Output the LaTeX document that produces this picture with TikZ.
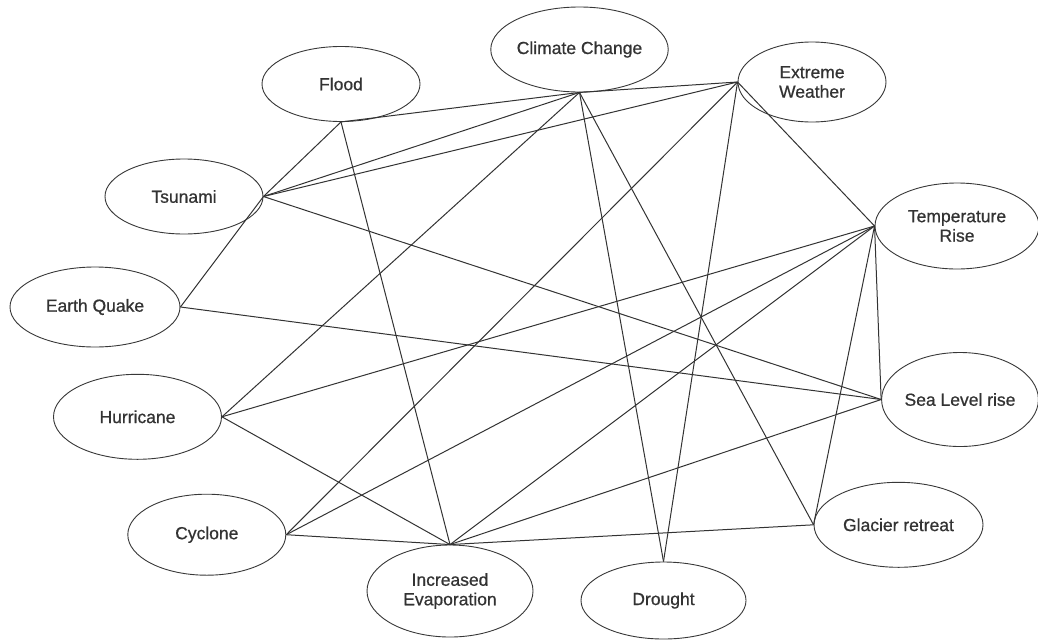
\documentclass[tikz,border=0pt]{standalone}
\usepackage{fontspec}
\setmainfont{Liberation Sans}
\newfontfamily\labelfont[FakeBold=0.7]{Liberation Sans}
\usetikzlibrary{shapes.geometric}
\begin{document}
\begin{tikzpicture}[x=1pt,y=-1pt,
  ink/.style={draw=black!78, line width=0.9pt},
  topic/.style={ellipse, ink, fill=white, inner sep=0pt, align=center,
    text=black!80, font=\labelfont\fontsize{17.5}{19.5}\selectfont},
  link/.style={draw=black!80, line width=1pt}]

\useasboundingbox[fill=white] (0,0) rectangle (1038,640);

% topics
\node[topic, minimum width=173pt, minimum height=85pt] (cc) at (579.5,49.5) {Climate Change};
\node[topic, minimum width=158pt, minimum height=75pt] (flood) at (341,84) {Flood};
\node[topic, minimum width=148pt, minimum height=80pt] (ew) at (812,82) {Extreme\\Weather};
\node[topic, minimum width=158pt, minimum height=75pt] (tsu) at (184,196.5) {Tsunami};
\node[topic, minimum width=170pt, minimum height=80pt] (eq) at (95,307) {Earth Quake};
\node[topic, minimum width=164pt, minimum height=86pt] (tr) at (957,226) {Temperature\\Rise};
\node[topic, minimum width=156pt, minimum height=94pt] (sl) at (960,399.5) {Sea Level rise};
\node[topic, minimum width=168pt, minimum height=85pt] (hur) at (137.5,416.8) {Hurricane};
\node[topic, minimum width=158pt, minimum height=81pt] (cyc) at (206.8,534.7) {Cyclone};
\node[topic, minimum width=166pt, minimum height=92pt] (ie) at (450,591) {Increased\\Evaporation};
\node[topic, minimum width=165pt, minimum height=77pt] (dr) at (663.5,600.5) {Drought};
\node[topic, minimum width=169pt, minimum height=85pt] (gl) at (898.5,524.8) {Glacier retreat};

% links
\draw[link] (flood.south) -- (cc.south);
\draw[link] (flood.south) -- (tsu.east);
\draw[link] (flood.south) -- (ie.north);
\draw[link] (tsu.east) -- (eq.east);
\draw[link] (tsu.east) -- (cc.south);
\draw[link] (tsu.east) -- (ew.west);
\draw[link] (tsu.east) -- (sl.west);
\draw[link] (eq.east) -- (sl.west);
\draw[link] (hur.east) -- (cc.south);
\draw[link] (hur.east) -- (tr.west);
\draw[link] (hur.east) -- (ie.north);
\draw[link] (cyc.east) -- (ew.west);
\draw[link] (cyc.east) -- (tr.west);
\draw[link] (cyc.east) -- (ie.north);
\draw[link] (ie.north) -- (tr.west);
\draw[link] (ie.north) -- (sl.west);
\draw[link] (ie.north) -- (gl.west);
\draw[link] (dr.north) -- (cc.south);
\draw[link] (dr.north) -- (ew.west);
\draw[link] (gl.west) -- (tr.west);
\draw[link] (gl.west) -- (cc.south);
\draw[link] (tr.west) -- (ew.west);
\draw[link] (tr.west) -- (sl.west);
\draw[link] (cc.south) -- (ew.west);
\end{tikzpicture}
\end{document}
